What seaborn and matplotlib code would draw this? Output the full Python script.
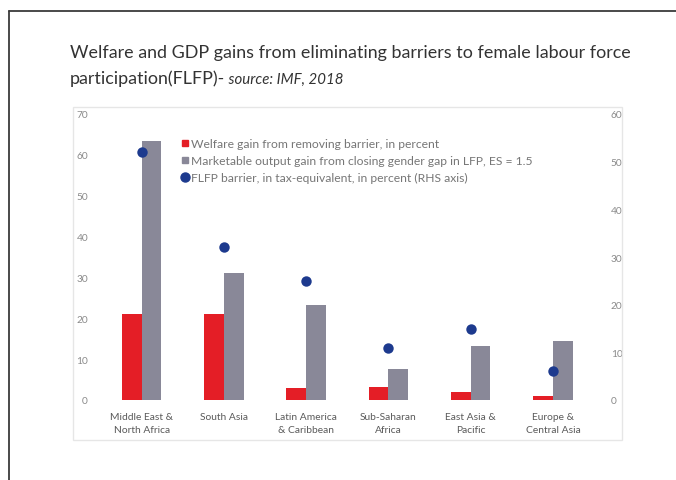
import matplotlib
matplotlib.use("Agg")
import matplotlib.pyplot as plt
from matplotlib.lines import Line2D
from matplotlib.patches import Rectangle
import seaborn as sns
import pandas as pd

# Regions and values
regions = ["Middle East &\nNorth Africa", "South Asia", "Latin America\n& Caribbean",
           "Sub-Saharan\nAfrica", "East Asia &\nPacific", "Europe &\nCentral Asia"]
welfare_gain = [21, 21, 3, 3.3, 2, 0.9]
output_gain = [63.5, 31, 23.2, 7.6, 13.2, 14.4]
flfp_barrier = [52, 32, 25, 11, 15, 6]

series_names = ["Welfare gain from removing barrier, in percent",
                "Marketable output gain from closing gender gap in LFP, ES = 1.5"]
barrier_name = "FLFP barrier, in tax-equivalent, in percent (RHS axis)"

left_ticks = [0, 10, 20, 30, 40, 50, 60, 70]
right_ticks = [0, 10, 20, 30, 40, 50, 60]

RED = "#E41E26"
GREY = "#898898"
BLUE = "#1D3A8E"

bars = pd.DataFrame({
    "region": regions * 2,
    "series": [series_names[0]] * len(regions) + [series_names[1]] * len(regions),
    "value": welfare_gain + output_gain,
})
dots = pd.DataFrame({"region": regions, "value": flfp_barrier})

sns.set_theme(style="white")
plt.rcParams["font.family"] = ["Lato", "DejaVu Sans"]

W, H = 676, 481
fig = plt.figure(figsize=(W / 100, H / 100), dpi=100)
fig.patch.set_facecolor("white")

def fx(px):
    return px / W

def fy(py):
    return 1 - py / H

ax = fig.add_axes([fx(100.5), fy(401), fx(594) - fx(100.5), fy(115) - fy(401)])

sns.barplot(data=bars, x="region", y="value", hue="series", order=regions,
            hue_order=series_names, palette=[RED, GREY], width=0.48,
            saturation=1, errorbar=None, legend=False, ax=ax)
for p in ax.patches:
    p.set_linewidth(0)

ax.set_ylim(0, 70)
ax.set_yticks(left_ticks)
ax.set_xlim(-0.5, len(regions) - 0.5)
ax.set_xlabel("")
ax.set_ylabel("")
ax.tick_params(axis="y", length=0, pad=9, labelsize=7.3, labelcolor="#8a8a8a")
ax.tick_params(axis="x", length=0, pad=9, labelsize=7.4, labelcolor="#5a5a5a")
for lbl in ax.get_xticklabels():
    lbl.set_linespacing(1.55)
for s in ax.spines.values():
    s.set_visible(False)

ax2 = ax.twinx()
sns.stripplot(data=dots, x="region", y="value", order=regions, jitter=False,
              color=BLUE, size=7.5, linewidth=0, ax=ax2)
ax2.set_ylim(0, 60)
ax2.set_yticks(right_ticks)
ax2.set_ylabel("")
ax2.tick_params(axis="y", length=0, pad=12, labelsize=7.3, labelcolor="#8a8a8a")
for s in ax2.spines.values():
    s.set_visible(False)

# Legend inside the plot area
handles = [
    Line2D([], [], linestyle="none", marker="s", markersize=4, color=RED),
    Line2D([], [], linestyle="none", marker="s", markersize=4, color=GREY),
    Line2D([], [], linestyle="none", marker="o", markersize=6.5, color=BLUE),
]
leg = fig.legend(handles, series_names + [barrier_name], loc="upper left",
                 bbox_to_anchor=(fx(181), fy(139)), frameon=False,
                 fontsize=8.7, handlelength=0.6, handletextpad=0.25,
                 labelspacing=0.5, borderaxespad=0, borderpad=0)
for t in leg.get_texts():
    t.set_color("#767676")

# Light frame around the chart area
fig.add_artist(Rectangle((fx(73), fy(441)), fx(622) - fx(73), fy(108) - fy(441),
                         transform=fig.transFigure, fill=False,
                         edgecolor="#e6e6e6", linewidth=1))

# Page border along the top and left edges
fig.add_artist(Line2D([fx(9), 1], [fy(12), fy(12)], transform=fig.transFigure,
                      color="#3a3a3a", linewidth=1.3))
fig.add_artist(Line2D([fx(9), fx(9)], [fy(12), 0], transform=fig.transFigure,
                      color="#3a3a3a", linewidth=1.3))

# Title
title_color = "#333333"
fig.text(fx(70), fy(53), "Welfare and GDP gains from eliminating barriers to female labour force",
         fontsize=12.9, color=title_color, va="center", ha="left")
t2 = fig.text(fx(70), fy(79), "participation(FLFP)-", fontsize=12.9, color=title_color,
              va="center", ha="left")
src = fig.text(0, 0, " source: IMF, 2018", fontsize=10.8, fontstyle="italic",
               color=title_color, va="baseline", ha="left")
# place the source note right after the second title line
fig.canvas.draw()
bb = t2.get_window_extent()
src.set_position((bb.x1 / W, (bb.y0 + 3.8) / H))

fig.savefig("out.png", dpi=100, facecolor="white")
